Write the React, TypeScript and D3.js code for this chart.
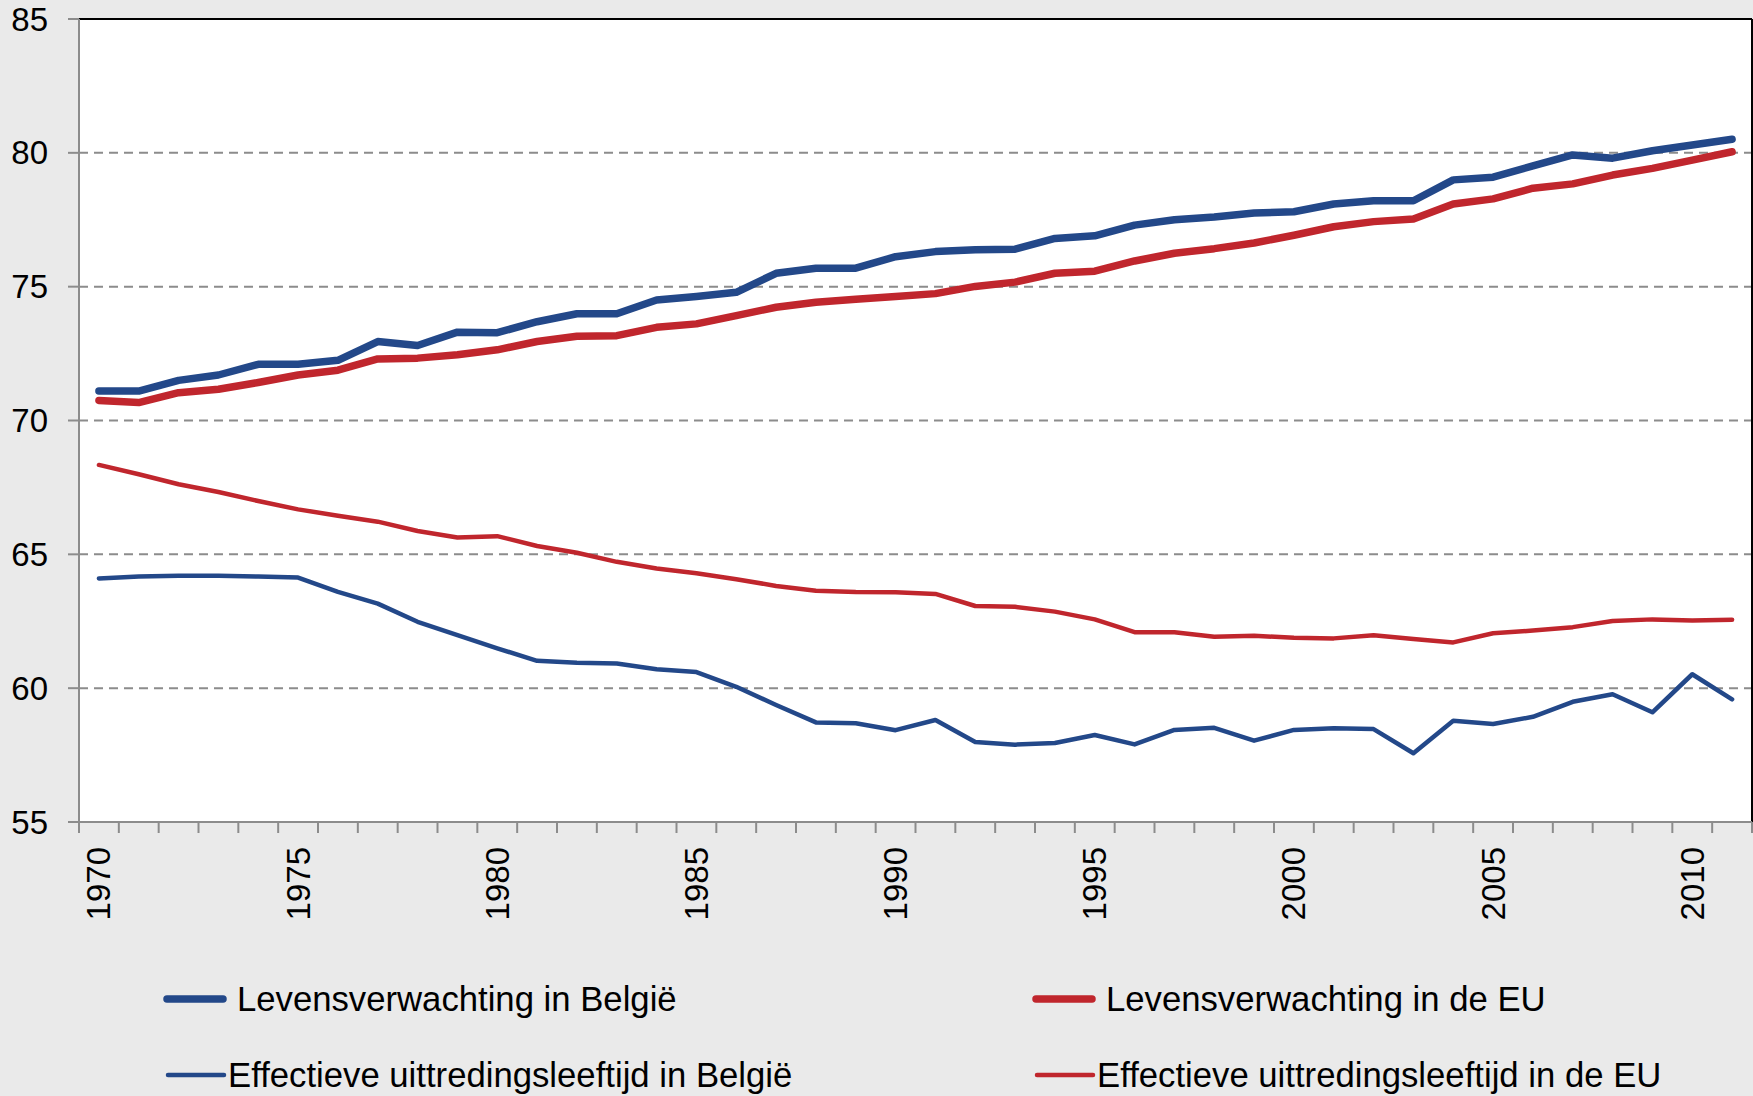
// Life expectancy vs effective retirement age, Belgium and EU (1970-2011)
import React from 'react';
import * as d3 from 'd3';

const years = [
  1970, 1971, 1972, 1973, 1974, 1975, 1976, 1977, 1978, 1979,
  1980, 1981, 1982, 1983, 1984, 1985, 1986, 1987, 1988, 1989,
  1990, 1991, 1992, 1993, 1994, 1995, 1996, 1997, 1998, 1999,
  2000, 2001, 2002, 2003, 2004, 2005, 2006, 2007, 2008, 2009,
  2010, 2011,
];
const yearLabels = ['1970', '1975', '1980', '1985', '1990', '1995', '2000', '2005', '2010'];
const yTicks = [55, 60, 65, 70, 75, 80, 85];

// life expectancy in Belgium
const lifeBE = [
  71.1, 71.1, 71.5, 71.7, 72.1, 72.1, 72.25, 72.95, 72.8, 73.3,
  73.28, 73.69, 73.99, 73.99, 74.5, 74.63, 74.79, 75.5, 75.69, 75.69,
  76.12, 76.31, 76.38, 76.4, 76.8, 76.9, 77.3, 77.5, 77.6, 77.75,
  77.8, 78.09, 78.21, 78.21, 78.99, 79.09, 79.51, 79.92, 79.8, 80.08,
  80.29, 80.51,
];
// life expectancy in the EU
const lifeEU = [
  70.75, 70.67, 71.04, 71.17, 71.42, 71.7, 71.88, 72.3, 72.33, 72.46,
  72.64, 72.95, 73.15, 73.17, 73.48, 73.61, 73.92, 74.23, 74.42, 74.53,
  74.63, 74.74, 75.01, 75.17, 75.5, 75.58, 75.96, 76.25, 76.42, 76.63,
  76.92, 77.24, 77.43, 77.53, 78.09, 78.28, 78.68, 78.84, 79.17, 79.42,
  79.73, 80.04,
];
// effective retirement age in Belgium
const retireBE = [
  64.1, 64.17, 64.2, 64.2, 64.17, 64.13, 63.6, 63.16, 62.48, 61.98,
  61.49, 61.02, 60.95, 60.92, 60.71, 60.6, 60.05, 59.37, 58.72, 58.69,
  58.43, 58.81, 57.99, 57.89, 57.95, 58.25, 57.9, 58.44, 58.52, 58.04,
  58.44, 58.5, 58.47, 57.57, 58.78, 58.66, 58.93, 59.49, 59.77, 59.1,
  60.52, 59.58,
];
// effective retirement age in the EU
const retireEU = [
  68.34, 67.99, 67.62, 67.33, 66.99, 66.68, 66.44, 66.22, 65.87, 65.63,
  65.68, 65.31, 65.06, 64.72, 64.47, 64.29, 64.07, 63.82, 63.64, 63.59,
  63.58, 63.52, 63.07, 63.04, 62.86, 62.57, 62.09, 62.09, 61.92, 61.96,
  61.88, 61.86, 61.98, 61.84, 61.71, 62.05, 62.15, 62.28, 62.51, 62.57,
  62.53, 62.56,
];

const BLUE = '#234889';
const RED = '#C0262D';
const FONT = '"Liberation Sans", Arial, sans-serif';

const series = [
  { key: 'retireEU', values: retireEU, color: RED, width: 4.5 },
  { key: 'retireBE', values: retireBE, color: BLUE, width: 4.5 },
  { key: 'lifeEU', values: lifeEU, color: RED, width: 7.5 },
  { key: 'lifeBE', values: lifeBE, color: BLUE, width: 7.5 },
];

const legend = [
  { label: 'Levensverwachting in België', color: BLUE, width: 7.5, x: 167, y: 999, tx: 237 },
  { label: 'Levensverwachting in de EU', color: RED, width: 7.5, x: 1036, y: 999, tx: 1106 },
  { label: 'Effectieve uittredingsleeftijd in België', color: BLUE, width: 4.5, x: 168, y: 1075, tx: 228 },
  { label: 'Effectieve uittredingsleeftijd in de EU', color: RED, width: 4.5, x: 1037, y: 1075, tx: 1097 },
];

const App = () => {
  const width = 1753, height = 1096;
  const margin = { top: 19, right: 1, bottom: 274, left: 79 };
  const plotRight = width - margin.right;
  const plotBottom = height - margin.bottom;

  // band scale: ticks on the band edges, labels in the middle
  const xScale = d3.scaleBand<number>()
    .domain(years)
    .range([margin.left, plotRight])
    .padding(0);
  const yScale = d3.scaleLinear()
    .domain([55, 85])
    .range([plotBottom, margin.top]);

  const line = d3.line<number>()
    .x((_, i) => xScale(years[i])! + xScale.bandwidth() / 2)
    .y(d => yScale(d));

  const edges = years.map(y => xScale(y)!).concat([plotRight]);

  return (
    <svg width={width} height={height} style={{ position: 'absolute', left: 0, top: 0, fontFamily: FONT }}>
      <rect width={width} height={height} fill="#EAEAEA" />
      <rect x={margin.left} y={margin.top} width={plotRight - margin.left} height={plotBottom - margin.top} fill="#fff" />

      {/* dashed grid lines */}
      {yTicks.filter(t => t > 55 && t < 85).map(t => (
        <line key={`g${t}`} x1={margin.left} x2={plotRight} y1={yScale(t)} y2={yScale(t)}
          stroke="#8C8C8C" strokeWidth={2} strokeDasharray="9,6" />
      ))}

      {/* plot frame top and right */}
      <line x1={margin.left} x2={plotRight} y1={margin.top} y2={margin.top} stroke="#000" strokeWidth={2} />
      <line x1={plotRight} x2={plotRight} y1={margin.top} y2={plotBottom} stroke="#000" strokeWidth={2} />

      {/* y axis */}
      <line x1={margin.left} x2={margin.left} y1={margin.top} y2={plotBottom} stroke="#8C8C8C" strokeWidth={2} />
      {yTicks.map(t => (
        <g key={`y${t}`}>
          <line x1={margin.left - 11} x2={margin.left} y1={yScale(t)} y2={yScale(t)} stroke="#8C8C8C" strokeWidth={2} />
          <text x={48} y={yScale(t)} dy="0.35em" textAnchor="end" fontSize={33} fill="#000">{t}</text>
        </g>
      ))}

      {/* x axis */}
      <line x1={margin.left - 11} x2={plotRight} y1={plotBottom} y2={plotBottom} stroke="#8C8C8C" strokeWidth={2} />
      {edges.map((x, i) => (
        <line key={`t${i}`} x1={x} x2={x} y1={plotBottom} y2={plotBottom + 11} stroke="#8C8C8C" strokeWidth={2} />
      ))}
      {yearLabels.map(l => {
        const cx = xScale(+l)! + xScale.bandwidth() / 2;
        return (
          <text key={`x${l}`} transform={`translate(${cx}, ${plotBottom + 25}) rotate(-90)`}
            dy="0.35em" textAnchor="end" fontSize={33} fill="#000">{l}</text>
        );
      })}

      {/* series lines */}
      {series.map(s => (
        <path key={s.key} d={line(s.values) || ''} fill="none" stroke={s.color} strokeWidth={s.width}
          strokeLinejoin="round" strokeLinecap="round" />
      ))}

      {/* legend */}
      {legend.map(l => (
        <g key={l.label}>
          <line x1={l.x} x2={l.x + 56} y1={l.y} y2={l.y} stroke={l.color} strokeWidth={l.width} strokeLinecap="round" />
          <text x={l.tx} y={l.y + 12} fontSize={34.7} fill="#000">{l.label}</text>
        </g>
      ))}
    </svg>
  );
};

export default App;
